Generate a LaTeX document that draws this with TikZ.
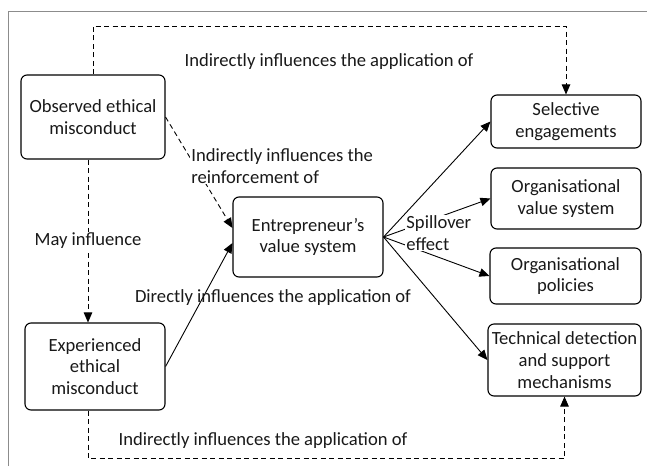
\documentclass[tikz,border=0pt]{standalone}
\usepackage{fontspec}
\setmainfont{Carlito}
\usetikzlibrary{arrows.meta}
\tikzset{
  box/.style={draw,rounded corners=6pt,line width=1.1pt,align=center,inner sep=2pt},
  tip/.style={-{Triangle[length=10pt,width=8.5pt]}},
  dashline/.style={draw,dash pattern=on 5pt off 3.5pt},
  lbl/.style={fill=white,inner sep=1pt}
}
\begin{document}
\begin{tikzpicture}[x=1pt,y=-1pt,line width=0.9pt,font=\fontsize{18.6}{21.7}\selectfont,text=black!90]
  %\draw[help lines,step=50] (0,0) grid (647,466);
  \useasboundingbox (0,0) rectangle (647,466);
  \path[draw,black!45,line width=1pt] (8,466)--(8,11)--(647,11);
  % boxes
  \node[box,minimum width=144pt,minimum height=84pt] (obs) at (93,117) {Observed ethical\\misconduct};
  \node[box,minimum width=140pt,minimum height=87pt] (exp) at (95,366.5) {Experienced\\ethical\\misconduct};
  \node[box,minimum width=150pt,minimum height=80pt] (entre) at (308,237) {Entrepreneur's\\value system};
  \node[box,minimum width=150pt,minimum height=53pt] (sel) at (566,121.5) {Selective\\engagements};
  \node[box,minimum width=150pt,minimum height=61pt] (orgval) at (566,198.5) {Organisational\\value system};
  \node[box,minimum width=151pt,minimum height=56pt] (orgpol) at (565.5,276) {Organisational\\policies};
  \node[box,minimum width=153pt,minimum height=72pt] (tech) at (564.5,360) {Technical detection\\and support\\mechanisms};
  % dashed links
  \path[dashline,tip] (obs.north) -- (obs.north |- 0,26) -| (sel.north);
  \node[] (topnote) at (329,62) {Indirectly influences the application of};
  \path[dashline,tip] ([xshift=-5pt]obs.south) -- node[lbl] (may) {May influence} ([xshift=-7pt]exp.north);
  \path[dashline,tip] (obs.east) -- ([yshift=9pt]entre.west);
  \node[lbl,anchor=west,align=left] (reinf) at (190,166) {Indirectly influences the\\reinforcement of};
  \path[dashline,tip] ([xshift=-7pt]exp.south) -- ++(0,48) -| (tech.south);
  \node[] (botnote) at (263,441) {Indirectly influences the application of};
  % solid links
  \path[draw,tip] (exp.east) -- ([yshift=-6pt]entre.west);
  \node[] (direct) at (273,298) {Directly influences the application of};
  \path[draw,tip] (entre.east) -- (sel.west);
  \path[draw,tip] (entre.east) -- (orgval.west);
  \path[draw,tip] (entre.east) -- (orgpol.west);
  \path[draw,tip] (entre.east) -- (tech.west);
  \node[lbl,anchor=west,align=left] (spill) at (405,233) {Spillover\\effect};
\end{tikzpicture}
\end{document}
